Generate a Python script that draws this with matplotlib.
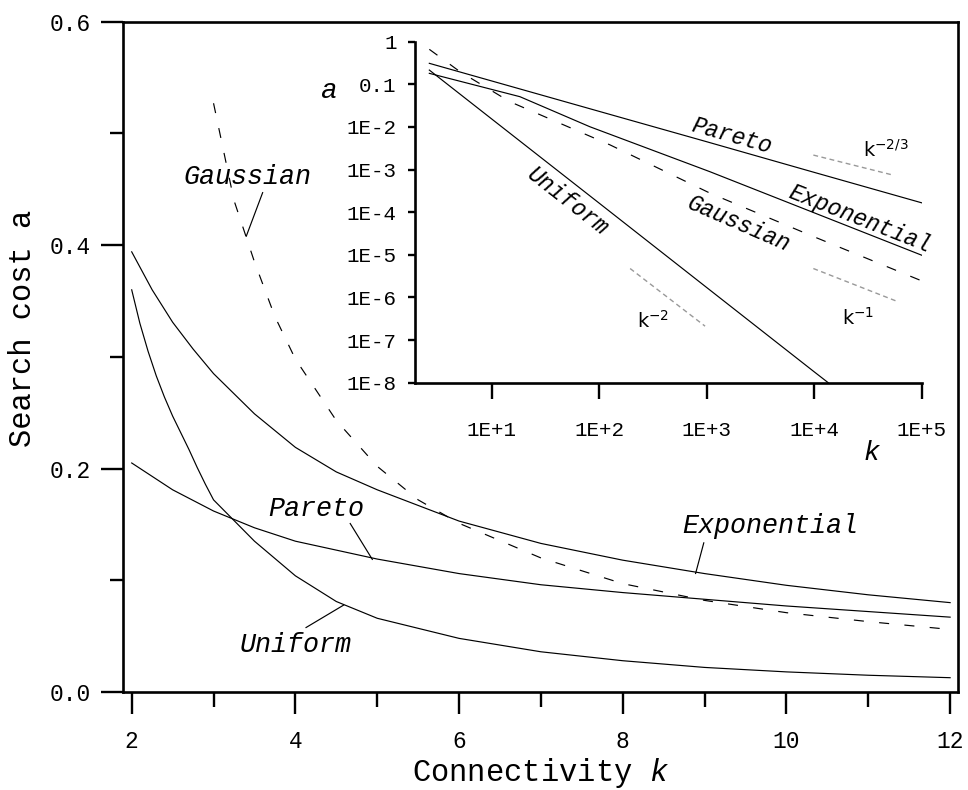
import matplotlib
matplotlib.use('Agg')
import matplotlib.pyplot as plt
from matplotlib.ticker import FixedLocator, MultipleLocator, FuncFormatter

plt.rcParams['font.family'] = ['Liberation Mono', 'DejaVu Sans']
plt.rcParams['mathtext.fontset'] = 'custom'
plt.rcParams['mathtext.rm'] = 'DejaVu Sans'
plt.rcParams['mathtext.it'] = 'Liberation Mono:italic'

# main panel: search cost vs connectivity
k_uni = [2, 2.1, 2.2, 2.3, 2.4, 2.5, 2.6, 2.7, 2.8, 2.9, 3, 3.5, 4, 4.5, 5, 6, 7, 8,
         9, 10, 11, 12]
a_uni = [0.360, 0.330, 0.305, 0.283, 0.264, 0.247, 0.232, 0.217, 0.201, 0.186,
         0.172, 0.135, 0.104, 0.081, 0.066, 0.048, 0.036, 0.028, 0.022, 0.018,
         0.015, 0.0128]
k_exp = [2, 2.25, 2.5, 2.75, 3, 3.5, 4, 4.5, 5, 6, 7, 8, 9, 10, 11, 12]
a_exp = [0.394, 0.360, 0.331, 0.307, 0.285, 0.249, 0.219, 0.197, 0.181, 0.153,
         0.133, 0.118, 0.106, 0.0955, 0.087, 0.080]
k_par = [2, 2.5, 3, 3.5, 4, 5, 6, 7, 8, 9, 10, 11, 12]
a_par = [0.205, 0.181, 0.162, 0.147, 0.135, 0.119, 0.106, 0.096, 0.089, 0.083,
         0.077, 0.072, 0.067]
k_gau = [3, 3.25, 3.5, 3.75, 4, 4.5, 5, 5.5, 6, 7, 8, 9, 10, 11, 12]
a_gau = [0.527, 0.440, 0.385, 0.336, 0.298, 0.243, 0.202, 0.172, 0.151, 0.120,
         0.097, 0.082, 0.071, 0.063, 0.056]

# inset: log-log, large k
ki_par = [2.63, 10, 100, 1000, 1e4, 1e5]
ai_par = [0.311, 0.12, 0.0232, 4.5e-3, 8.6e-4, 1.66e-4]
ki_exp = [2.63, 18.3, 82, 1073, 1e5]
ai_exp = [0.181, 0.0513, 0.0101, 8.9e-4, 9.8e-6]
ki_uni = [2.63, 10, 100, 1000, 1e4, 1.35e4]
ai_uni = [0.216, 0.0154, 1.63e-4, 1.71e-6, 1.8e-8, 1e-8]
ki_gau = [2.63, 5.07, 14.8, 126, 1073, 9140, 1e5]
ai_gau = [0.662, 0.198, 0.039, 3.8e-3, 2.8e-4, 2.9e-5, 2.45e-6]

# reference slopes
ref_k23 = [9820, 54400]
ref_a23 = [2.19e-3, 7.4e-4]
ref_k1 = [9820, 60500]
ref_a1 = [4.77e-6, 7.9e-7]
ref_k2 = [194, 966]
ref_a2 = [4.77e-6, 2.12e-7]

x_ticks = [2, 4, 6, 8, 10, 12]
y_ticks = [0.0, 0.2, 0.4, 0.6]
in_xticks = [10, 100, 1000, 1e4, 1e5]
in_xlabels = ['1E+1', '1E+2', '1E+3', '1E+4', '1E+5']
in_yticks = [1, 0.1, 1e-2, 1e-3, 1e-4, 1e-5, 1e-6, 1e-7, 1e-8]
in_ylabels = ['1', '0.1', '1E-2', '1E-3', '1E-4', '1E-5', '1E-6', '1E-7', '1E-8']

dash = (0, (8.5, 13))
lw = 0.85
W, H = 968, 790

fig = plt.figure(figsize=(9.68, 7.90), dpi=100)
ax = fig.add_axes([122.7 / W, 1 - 692 / H, (958.3 - 122.7) / W, (692 - 21.7) / H])

ax.plot(k_uni, a_uni, color='black', lw=lw)
ax.plot(k_exp, a_exp, color='black', lw=lw)
ax.plot(k_par, a_par, color='black', lw=lw)
ax.plot(k_gau, a_gau, color='black', lw=lw, linestyle=dash)

ax.set_xlim(1.89, 12.10)
ax.set_ylim(0, 0.6)
ax.set_xticks(x_ticks)
ax.set_yticks(y_ticks)
ax.xaxis.set_minor_locator(MultipleLocator(1))
ax.yaxis.set_minor_locator(MultipleLocator(0.1))
ax.yaxis.set_major_formatter(FuncFormatter(lambda v, p: '%.1f' % v))
for s in ax.spines.values():
    s.set_linewidth(1.9)
ax.tick_params(which='both', direction='out', width=1.7, labelsize=16.5)
ax.tick_params(axis='x', which='major', length=15.5, pad=12)
ax.tick_params(axis='x', which='minor', length=10.5)
ax.tick_params(axis='y', which='major', length=15.8, pad=7)
ax.tick_params(axis='y', which='minor', length=9.4)

ax.set_xlabel('Connectivity $k$', fontsize=22, va='center')
ax.xaxis.set_label_coords(0.5, -0.121)
ax.set_ylabel('Search cost a', fontsize=22, va='center')
ax.yaxis.set_label_coords(-0.1193, 0.542)

# curve labels with leader lines
lab = dict(fontsize=19.3, fontstyle='italic', ha='center', va='center')
ax.text(3.42, 0.461, 'Gaussian', **lab)
ax.plot([3.60, 3.40], [0.447, 0.408], color='black', lw=lw)
ax.text(4.26, 0.1636, 'Pareto', **lab)
ax.plot([4.67, 4.94], [0.1508, 0.1187], color='black', lw=lw)
ax.text(9.80, 0.1487, 'Exponential', **lab)
ax.plot([8.99, 8.89], [0.1335, 0.1061], color='black', lw=lw)
ax.text(4.0, 0.042, 'Uniform', **lab)
ax.plot([4.13, 4.59], [0.0577, 0.0778], color='black', lw=lw)

# inset
axi = fig.add_axes([415 / W, 1 - 382.7 / H, (921.7 - 415) / W, (382.7 - 41.7) / H])
axi.set_xscale('log')
axi.set_yscale('log')
axi.plot(ki_par, ai_par, color='black', lw=lw)
axi.plot(ki_exp, ai_exp, color='black', lw=lw)
axi.plot(ki_uni, ai_uni, color='black', lw=lw)
axi.plot(ki_gau, ai_gau, color='black', lw=lw, linestyle=dash)
gray = dict(color='#999999', lw=1.0, linestyle=(0, (3.5, 2.5)))
axi.plot(ref_k23, ref_a23, **gray)
axi.plot(ref_k1, ref_a1, **gray)
axi.plot(ref_k2, ref_a2, **gray)

axi.set_xlim(1.935, 1e5)
axi.set_ylim(1e-8, 1)
axi.xaxis.set_major_locator(FixedLocator(in_xticks))
axi.xaxis.set_minor_locator(FixedLocator([]))
axi.set_xticklabels(in_xlabels)
axi.yaxis.set_major_locator(FixedLocator(in_yticks))
axi.yaxis.set_minor_locator(FixedLocator([]))
axi.set_yticklabels(in_ylabels)
axi.spines['top'].set_visible(False)
axi.spines['right'].set_visible(False)
for s in ['left', 'bottom']:
    axi.spines[s].set_linewidth(1.9)
axi.tick_params(which='both', direction='out', width=1.7, labelsize=15)
axi.tick_params(axis='x', length=11.5, pad=16)
axi.tick_params(axis='y', length=5.3, pad=8)

axi.set_ylabel('a', fontsize=20, fontstyle='italic', rotation=0, ha='center', va='center')
axi.yaxis.set_label_coords(-0.171, 0.856)
axi.set_xlabel('k', fontsize=20, fontstyle='italic', family=['Liberation Sans'], va='center')
axi.xaxis.set_label_coords(0.901, -0.207)

ilab = dict(fontsize=16.5, fontstyle='italic', ha='center', va='center', rotation_mode='anchor')
axi.text(1730, 6.1e-3, 'Pareto', rotation=-15.8, **ilab)
axi.text(26700, 7.1e-5, 'Exponential', rotation=-21.5, **ilab)
axi.text(1995, 5.25e-5, 'Gaussian', rotation=-23.5, **ilab)
axi.text(50.5, 1.75e-4, 'Uniform', rotation=-38, **ilab)

elab = dict(fontsize=14, family=['DejaVu Sans'], ha='left', va='baseline')
axi.text(28600, 2.0e-3, 'k$^{-2/3}$', **elab)
axi.text(18000, 2.24e-7, 'k$^{-1}$', **elab)
axi.text(223, 1.9e-7, 'k$^{-2}$', **elab)

fig.savefig('out.png', dpi=100)
